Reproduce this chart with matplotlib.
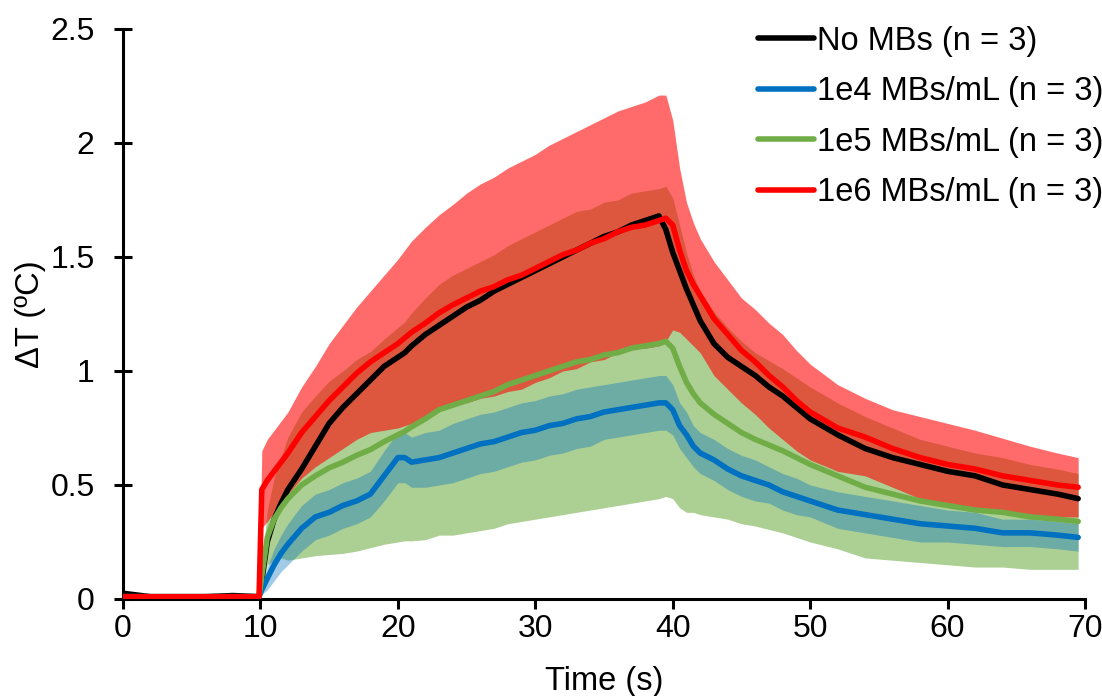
import numpy as np
import matplotlib.pyplot as plt

plt.rcParams['font.family'] = ['Liberation Sans', 'DejaVu Sans']

# time axis (s) and mean dT / sd for each group
time_s = [0, 2, 4, 6, 8, 9.9, 10.1, 10.5, 11, 11.5, 12, 13, 14, 15, 16, 17, 18, 19, 20, 20.5,
          21, 22, 23, 24, 25, 26, 27, 28, 29, 30, 31, 32, 33, 34, 35, 36, 37, 38, 39, 39.5,
          40, 40.5, 41, 41.5, 42, 43, 44, 45, 46, 47, 48, 49, 50, 52, 54, 56, 58, 60, 62, 64,
          66, 68, 69.5]

no_mbs = [0.025, 0.01, 0.01, 0.01, 0.015, 0.01, 0.08, 0.25, 0.35, 0.42, 0.48, 0.57, 0.67, 0.77, 0.84, 0.90, 0.96, 1.02, 1.06, 1.08,
          1.11, 1.16, 1.20, 1.24, 1.28, 1.31, 1.35, 1.38, 1.41, 1.44, 1.47, 1.50, 1.53, 1.56, 1.59, 1.61, 1.64, 1.66, 1.68, 1.62,
          1.52, 1.44, 1.36, 1.29, 1.22, 1.12, 1.06, 1.02, 0.98, 0.93, 0.89, 0.84, 0.79, 0.72, 0.66, 0.62, 0.59, 0.56, 0.54, 0.50,
          0.48, 0.46, 0.44]

mbs_1e4 = [0.01, 0.01, 0.01, 0.01, 0.01, 0.01, 0.04, 0.09, 0.15, 0.20, 0.24, 0.31, 0.36, 0.38, 0.41, 0.43, 0.46, 0.54, 0.62, 0.62,
           0.60, 0.61, 0.62, 0.64, 0.66, 0.68, 0.69, 0.71, 0.73, 0.74, 0.76, 0.77, 0.79, 0.80, 0.82, 0.83, 0.84, 0.85, 0.86, 0.86,
           0.83, 0.76, 0.72, 0.67, 0.64, 0.61, 0.57, 0.54, 0.52, 0.50, 0.47, 0.45, 0.43, 0.39, 0.37, 0.35, 0.33, 0.32, 0.31, 0.29,
           0.29, 0.28, 0.27]
mbs_1e4_sd = [0.005, 0.005, 0.005, 0.005, 0.005, 0.005, 0.02, 0.05, 0.07, 0.08, 0.09, 0.10, 0.10, 0.10, 0.10, 0.10, 0.10, 0.11, 0.11, 0.11,
              0.11, 0.12, 0.12, 0.13, 0.13, 0.13, 0.13, 0.13, 0.13, 0.13, 0.13, 0.13, 0.13, 0.13, 0.12, 0.12, 0.12, 0.12, 0.12, 0.12,
              0.11, 0.10, 0.10, 0.09, 0.09, 0.09, 0.09, 0.09, 0.09, 0.08, 0.08, 0.08, 0.07, 0.08, 0.08, 0.08, 0.08, 0.07, 0.07, 0.06,
              0.06, 0.06, 0.06]

mbs_1e5 = [0.01, 0.01, 0.01, 0.01, 0.01, 0.01, 0.10, 0.27, 0.35, 0.40, 0.44, 0.50, 0.54, 0.575, 0.60, 0.63, 0.655, 0.69, 0.72, 0.735,
           0.755, 0.79, 0.83, 0.85, 0.87, 0.89, 0.91, 0.94, 0.96, 0.98, 1.00, 1.02, 1.04, 1.05, 1.07, 1.08, 1.10, 1.11, 1.12, 1.13,
           1.10, 1.02, 0.95, 0.90, 0.86, 0.81, 0.77, 0.73, 0.70, 0.675, 0.65, 0.62, 0.59, 0.54, 0.49, 0.46, 0.43, 0.41, 0.39, 0.38,
           0.36, 0.35, 0.34]
mbs_1e5_sd = [0.005, 0.005, 0.005, 0.005, 0.005, 0.005, 0.05, 0.12, 0.18, 0.22, 0.27, 0.32, 0.35, 0.38, 0.40, 0.42, 0.43, 0.45, 0.47, 0.48,
              0.50, 0.53, 0.55, 0.57, 0.58, 0.59, 0.60, 0.61, 0.62, 0.63, 0.64, 0.65, 0.66, 0.66, 0.67, 0.67, 0.68, 0.68, 0.68, 0.68,
              0.66, 0.62, 0.57, 0.52, 0.49, 0.45, 0.42, 0.40, 0.38, 0.37, 0.36, 0.35, 0.34, 0.32, 0.31, 0.29, 0.27, 0.26, 0.25, 0.24,
              0.23, 0.22, 0.21]

mbs_1e6 = [0.01, 0.01, 0.01, 0.01, 0.01, 0.01, 0.48, 0.52, 0.56, 0.60, 0.64, 0.73, 0.80, 0.87, 0.93, 0.99, 1.04, 1.08, 1.12, 1.145,
           1.17, 1.21, 1.255, 1.29, 1.32, 1.35, 1.37, 1.40, 1.42, 1.45, 1.48, 1.51, 1.53, 1.56, 1.58, 1.61, 1.63, 1.64, 1.66, 1.67,
           1.64, 1.53, 1.44, 1.38, 1.33, 1.23, 1.16, 1.09, 1.04, 0.98, 0.93, 0.87, 0.82, 0.75, 0.71, 0.66, 0.62, 0.59, 0.57, 0.54,
           0.52, 0.50, 0.49]
mbs_1e6_sd = [0.005, 0.005, 0.005, 0.005, 0.005, 0.005, 0.17, 0.18, 0.18, 0.18, 0.18, 0.20, 0.22, 0.25, 0.27, 0.29, 0.31, 0.34, 0.37, 0.385,
              0.40, 0.42, 0.43, 0.44, 0.46, 0.47, 0.48, 0.49, 0.50, 0.50, 0.51, 0.51, 0.52, 0.52, 0.53, 0.53, 0.53, 0.54, 0.55, 0.54,
              0.46, 0.36, 0.30, 0.27, 0.25, 0.25, 0.24, 0.23, 0.23, 0.23, 0.23, 0.22, 0.21, 0.19, 0.17, 0.17, 0.18, 0.18, 0.17, 0.165,
              0.15, 0.14, 0.13]

labels = ['No MBs (n = 3)', '1e4 MBs/mL (n = 3)', '1e5 MBs/mL (n = 3)', '1e6 MBs/mL (n = 3)']
colors = ['#000000', '#0070C0', '#70AD47', '#FF0000']
xticks = [0, 10, 20, 30, 40, 50, 60, 70]
yticks = [0, 0.5, 1, 1.5, 2, 2.5]
ytick_labels = ['0', '0.5', '1', '1.5', '2', '2.5']

t = np.array(time_s)

fig = plt.figure(figsize=(11.02, 6.96), dpi=100)
ax = fig.add_axes([0.1116, 0.1394, 0.873, 0.819])

# error bands: green first, blue and red on top of it
m, s = np.array(mbs_1e5), np.array(mbs_1e5_sd)
ax.fill_between(t, m - s, m + s, color=colors[2], alpha=0.58, lw=0, zorder=1)
m, s = np.array(mbs_1e4), np.array(mbs_1e4_sd)
ax.fill_between(t, m - s, m + s, color=colors[1], alpha=0.37, lw=0, zorder=2)
m, s = np.array(mbs_1e6), np.array(mbs_1e6_sd)
ax.fill_between(t, m - s, m + s, color=colors[3], alpha=0.58, lw=0, zorder=3)

for y, c, lab, z in zip([no_mbs, mbs_1e4, mbs_1e5, mbs_1e6], colors, labels, [5, 6, 7, 8]):
    ax.plot(t, y, color=c, lw=4.0, label=lab, zorder=z, solid_capstyle='round')

ax.set_xlim(0, 70)
ax.set_ylim(0, 2.5)
ax.set_xticks(xticks)
ax.set_yticks(yticks)
ax.set_yticklabels(ytick_labels)
ax.tick_params(axis='both', labelsize=23, width=2.2, colors='black')
ax.tick_params(axis='y', direction='inout', length=13, pad=14)
ax.tick_params(axis='x', direction='out', length=7, pad=4)
for side in ['top', 'right']:
    ax.spines[side].set_visible(False)
for side in ['left', 'bottom']:
    ax.spines[side].set_linewidth(2.2)

ax.set_xlabel('Time (s)', fontsize=23.5, labelpad=16)
ax.set_ylabel('ΔT (ºC)', fontsize=23.5, labelpad=3)

ax.legend(loc='upper right', bbox_to_anchor=(1.004, 0.968), bbox_transform=fig.transFigure,
          frameon=False, fontsize=23.5, handlelength=1.7, handletextpad=0.1,
          labelspacing=0.6, borderaxespad=0, borderpad=0.1)

fig.savefig('out.png', dpi=100)
